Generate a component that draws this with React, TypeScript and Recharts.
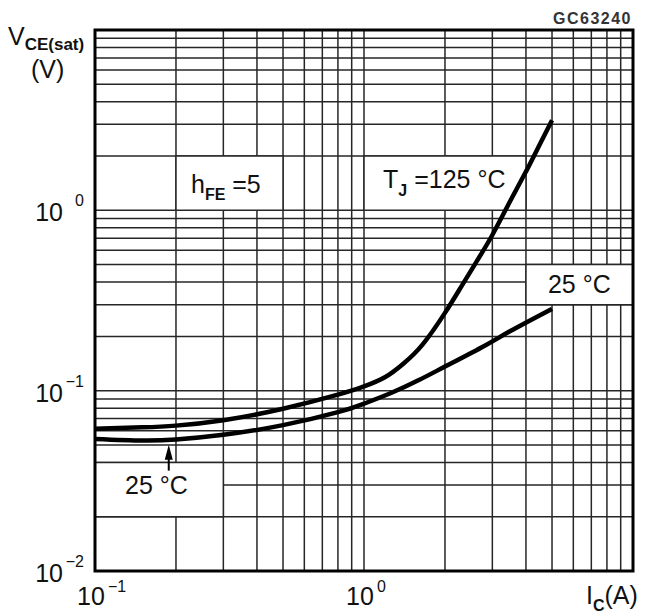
import React from "react";
import {
  LineChart,
  Line,
  XAxis,
  YAxis,
  CartesianGrid,
  ReferenceArea,
  ReferenceDot,
  Customized,
} from "recharts";

// collector current (A) / saturation voltage (V)
const ic125 = [0.1, 0.15, 0.2, 0.3, 0.5, 0.8, 1.0, 1.2, 1.4, 1.65, 2.0, 2.29, 2.6, 3.0, 3.5, 4.0, 4.5, 5.0];
const vce125 = [0.0615, 0.0626, 0.064, 0.0686, 0.0794, 0.095, 0.1055, 0.119, 0.141, 0.18, 0.27, 0.374, 0.51, 0.73, 1.13, 1.64, 2.32, 3.16];

const ic25 = [0.1, 0.15, 0.2, 0.3, 0.5, 0.8, 1.0, 1.26, 1.6, 2.0, 2.8, 3.5, 5.0];
const vce25 = [0.054, 0.0529, 0.0536, 0.0569, 0.0644, 0.076, 0.0847, 0.097, 0.1145, 0.136, 0.177, 0.214, 0.284];

const icTicks = [0.1, 0.2, 0.3, 0.4, 0.5, 0.6, 0.7, 0.8, 0.9, 1, 2, 3, 4, 5, 6, 7, 8, 9, 10];
const vceTicks = [
  0.01, 0.02, 0.03, 0.04, 0.05, 0.06, 0.07, 0.08, 0.09,
  0.1, 0.2, 0.3, 0.4, 0.5, 0.6, 0.7, 0.8, 0.9,
  1, 2, 3, 4, 5, 6, 7, 8, 9, 10,
];
const icExp: Record<string, string> = { "0.1": "\u22121", "1": "0" };
const vceExp: Record<string, string> = { "0.01": "\u22122", "0.1": "\u22121", "1": "0" };

const data125 = ic125.map((ic, i) => ({ ic, v: vce125[i] }));
const data25 = ic25.map((ic, i) => ({ ic, v: vce25[i] }));

const FONT = "'Liberation Sans', Arial, sans-serif";
const INK = "#111";
const GRID = "#262626";

const XTick = (props: any) => {
  const { x, payload } = props;
  const sup = icExp[String(payload.value)];
  if (sup === undefined) return <g />;
  return (
    <g fontFamily={FONT} fill={INK}>
      <text x={x - 4} y={605} textAnchor="middle" fontSize={25}>10</text>
      <text x={x + 13} y={592} fontSize={16}>{sup}</text>
    </g>
  );
};

const YTick = (props: any) => {
  const { y, payload } = props;
  const sup = vceExp[String(payload.value)];
  if (sup === undefined) return <g />;
  return (
    <g fontFamily={FONT} fill={INK}>
      <text x={63} y={y + 11} textAnchor="end" fontSize={25}>10</text>
      <text x={84} y={y - 4} textAnchor="end" fontSize={16}>{sup}</text>
    </g>
  );
};

const boxText = (dx: number, dy: number, body: React.ReactNode) => (props: any) => {
  const vb = props.viewBox || {};
  return (
    <text x={vb.x + dx} y={vb.y + dy} fontFamily={FONT} fontSize={25} fill={INK}>
      {body}
    </text>
  );
};

const hfeLabel = boxText(15, 37, (
  <>
    h<tspan fontSize={16} fontWeight="bold" dy={7}>FE</tspan>
    <tspan dy={-7}> =5</tspan>
  </>
));
const tjLabel = boxText(19, 32, (
  <>
    T<tspan fontSize={16} fontWeight="bold" dy={8}>J</tspan>
    <tspan dy={-8}> =125 °C</tspan>
  </>
));
const t25Right = boxText(22, 28, "25 °C");
const t25Low = boxText(30, 32, "25 °C");

const Arrow = (props: any) => {
  const { cx, cy } = props;
  return (
    <g>
      <line x1={cx} y1={cy + 8} x2={cx} y2={cy + 26} stroke="#000" strokeWidth={2} />
      <path d={`M${cx},${cy} L${cx - 4},${cy + 15} L${cx + 4},${cy + 15} Z`} fill="#000" />
    </g>
  );
};

const Titles = () => (
  <g fontFamily={FONT} fill={INK}>
    <text x={8} y={45} fontSize={25}>
      V<tspan fontSize={17} fontWeight="bold" dy={5}>CE(sat)</tspan>
    </text>
    <text x={31} y={78} fontSize={25}>(V)</text>
    <text x={632} y={24} textAnchor="end" fontSize={16} fontWeight="bold" letterSpacing={1.5} fill="#333">
      GC63240
    </text>
    <text x={586} y={604} fontSize={25}>
      I<tspan fontSize={16} fontWeight="bold" dy={7}>C</tspan>
      <tspan dy={-7}>(A)</tspan>
    </text>
  </g>
);

const boxStyle = { fill: "#fff", fillOpacity: 1, stroke: GRID, strokeWidth: 1.5 };

export default function App() {
  return (
    <div style={{ position: "absolute", left: 0, top: 0, background: "#fff" }}>
      <LineChart width={646} height={616} margin={{ top: 30, right: 13, left: 0, bottom: 0 }}>
        <CartesianGrid stroke={GRID} strokeWidth={1.5} />
        <XAxis
          type="number"
          dataKey="ic"
          scale="log"
          domain={[0.1, 10]}
          allowDataOverflow
          ticks={icTicks}
          interval={0}
          tick={XTick}
          tickLine={false}
          axisLine={false}
          height={45}
        />
        <YAxis
          type="number"
          dataKey="v"
          scale="log"
          domain={[0.01, 10]}
          allowDataOverflow
          ticks={vceTicks}
          interval={0}
          tick={YTick}
          tickLine={false}
          axisLine={false}
          width={95}
        />
        <ReferenceArea x1={0.2} x2={0.5} y1={1} y2={2} {...boxStyle} label={hfeLabel} />
        <ReferenceArea x1={1} x2={4} y1={1} y2={2} {...boxStyle} label={tjLabel} />
        <ReferenceArea x1={4} x2={10} y1={0.3} y2={0.5} {...boxStyle} label={t25Right} />
        <ReferenceArea x1={0.1} x2={0.3} y1={0.02} y2={0.04} {...boxStyle} label={t25Low} />
        <Line
          data={data125}
          dataKey="v"
          type="natural"
          stroke="#000"
          strokeWidth={4.5}
          dot={false}
          isAnimationActive={false}
        />
        <Line
          data={data25}
          dataKey="v"
          type="natural"
          stroke="#000"
          strokeWidth={4.5}
          dot={false}
          isAnimationActive={false}
        />
        <ReferenceDot x={0.188} y={0.0502} r={0} shape={Arrow} />
        <ReferenceArea x1={0.1} x2={10} y1={0.01} y2={10} fill="none" stroke="#000" strokeWidth={3} />
        <Customized component={<Titles />} />
      </LineChart>
    </div>
  );
}
